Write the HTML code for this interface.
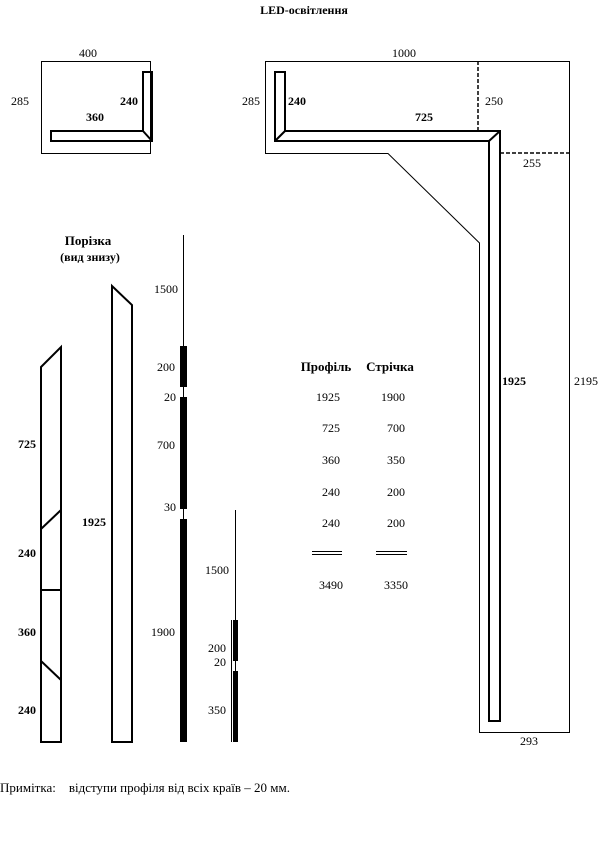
<!DOCTYPE html>
<html><head><meta charset="utf-8"><style>
html,body{margin:0;padding:0;background:#fff;}
svg{display:block;}
text{font-family:"Liberation Serif",serif;font-size:12px;fill:#000;}
.b{font-weight:bold;}
.h{font-size:13px;}
</style></head><body>
<svg width="608" height="841" viewBox="0 0 608 841" xmlns="http://www.w3.org/2000/svg">
<text x="304" y="14" text-anchor="middle" class="b">LED-освітлення</text>

<!-- left box -->
<rect x="41.5" y="61.5" width="109" height="92" fill="none" stroke="#000" stroke-width="1"/>
<text x="88" y="57" text-anchor="middle">400</text>
<text x="20" y="105" text-anchor="middle">285</text>
<g fill="none" stroke="#000" stroke-width="2">
<path d="M143,131 V72 H152 V141 H51 V131 Z"/>
<line x1="143" y1="131" x2="152" y2="141"/>
</g>
<text x="129" y="105" text-anchor="middle" class="b">240</text>
<text x="95" y="121" text-anchor="middle" class="b">360</text>

<!-- right box -->
<path d="M265.5,153.5 V61.5 H569.5 V732.5 H479.5 V243 L388,153.5 Z" fill="none" stroke="#000" stroke-width="1"/>
<line x1="478" y1="61" x2="478" y2="130" stroke="#000" stroke-width="1.5" stroke-dasharray="4,2"/>
<line x1="500" y1="153" x2="569" y2="153" stroke="#000" stroke-width="1.5" stroke-dasharray="4,2"/>
<g fill="none" stroke="#000" stroke-width="2">
<path d="M275,72 H285 V131 H500 V721 H489 V141 H275 Z"/>
<line x1="275" y1="141" x2="285" y2="131"/>
<line x1="489" y1="141" x2="500" y2="131"/>
</g>
<text x="404" y="57" text-anchor="middle">1000</text>
<text x="251" y="105" text-anchor="middle">285</text>
<text x="297" y="105" text-anchor="middle" class="b">240</text>
<text x="424" y="121" text-anchor="middle" class="b">725</text>
<text x="494" y="105" text-anchor="middle">250</text>
<text x="532" y="167" text-anchor="middle">255</text>
<text x="514" y="385" text-anchor="middle" class="b">1925</text>
<text x="586" y="385" text-anchor="middle">2195</text>
<text x="529" y="745" text-anchor="middle">293</text>

<!-- cutting -->
<text x="88" y="245" text-anchor="middle" class="b h">Порізка</text>
<text x="90" y="261" text-anchor="middle" class="b">(вид знизу)</text>
<g fill="none" stroke="#000" stroke-width="2">
<path d="M41,367 L61,347 V742 H41 Z"/>
<line x1="41" y1="529" x2="61" y2="510"/>
<line x1="41" y1="590" x2="61" y2="590"/>
<line x1="41" y1="661" x2="61" y2="680"/>
<path d="M112,286 L132,305 V742 H112 Z"/>
</g>
<text x="27" y="448" text-anchor="middle" class="b">725</text>
<text x="27" y="557" text-anchor="middle" class="b">240</text>
<text x="27" y="636" text-anchor="middle" class="b">360</text>
<text x="27" y="714" text-anchor="middle" class="b">240</text>
<text x="94" y="526" text-anchor="middle" class="b">1925</text>

<!-- strip 1 -->
<line x1="183.5" y1="235" x2="183.5" y2="519" stroke="#000" stroke-width="1"/>
<rect x="180" y="346" width="7" height="41" fill="#000"/>
<rect x="180" y="397" width="7" height="112" fill="#000"/>
<rect x="180" y="519" width="7" height="223" fill="#000"/>
<text x="166" y="293" text-anchor="middle">1500</text>
<text x="166" y="371" text-anchor="middle">200</text>
<text x="170" y="401" text-anchor="middle">20</text>
<text x="166" y="449" text-anchor="middle">700</text>
<text x="170" y="511" text-anchor="middle">30</text>
<text x="163" y="636" text-anchor="middle">1900</text>

<!-- strip 2 -->
<line x1="235.5" y1="510" x2="235.5" y2="620" stroke="#000" stroke-width="1"/>
<line x1="231.5" y1="620" x2="231.5" y2="742" stroke="#000" stroke-width="1"/>
<rect x="233" y="620" width="5" height="41" fill="#000"/>
<rect x="233" y="671" width="5" height="71" fill="#000"/>
<line x1="235.5" y1="661" x2="235.5" y2="671" stroke="#000" stroke-width="1"/>
<text x="217" y="574" text-anchor="middle">1500</text>
<text x="217" y="652" text-anchor="middle">200</text>
<text x="220" y="666" text-anchor="middle">20</text>
<text x="217" y="714" text-anchor="middle">350</text>

<!-- table -->
<text x="326" y="371" text-anchor="middle" class="b h">Профіль</text>
<text x="390" y="371" text-anchor="middle" class="b h">Стрічка</text>
<g text-anchor="middle">
<text x="328" y="401">1925</text><text x="393" y="401">1900</text>
<text x="331" y="432">725</text><text x="396" y="432">700</text>
<text x="331" y="464">360</text><text x="396" y="464">350</text>
<text x="331" y="496">240</text><text x="396" y="496">200</text>
<text x="331" y="527">240</text><text x="396" y="527">200</text>
<text x="331" y="589">3490</text><text x="396" y="589">3350</text>
</g>
<g stroke="#000" stroke-width="1">
<line x1="312" y1="551.5" x2="342" y2="551.5"/><line x1="312" y1="554.5" x2="342" y2="554.5"/>
<line x1="376" y1="551.5" x2="407" y2="551.5"/><line x1="376" y1="554.5" x2="407" y2="554.5"/>
</g>

<text x="0" y="792" style="font-size:13px">Примітка:&#160;&#160;&#160;&#160;відступи профіля від всіх країв – 20 мм.</text>
</svg>
</body></html>
